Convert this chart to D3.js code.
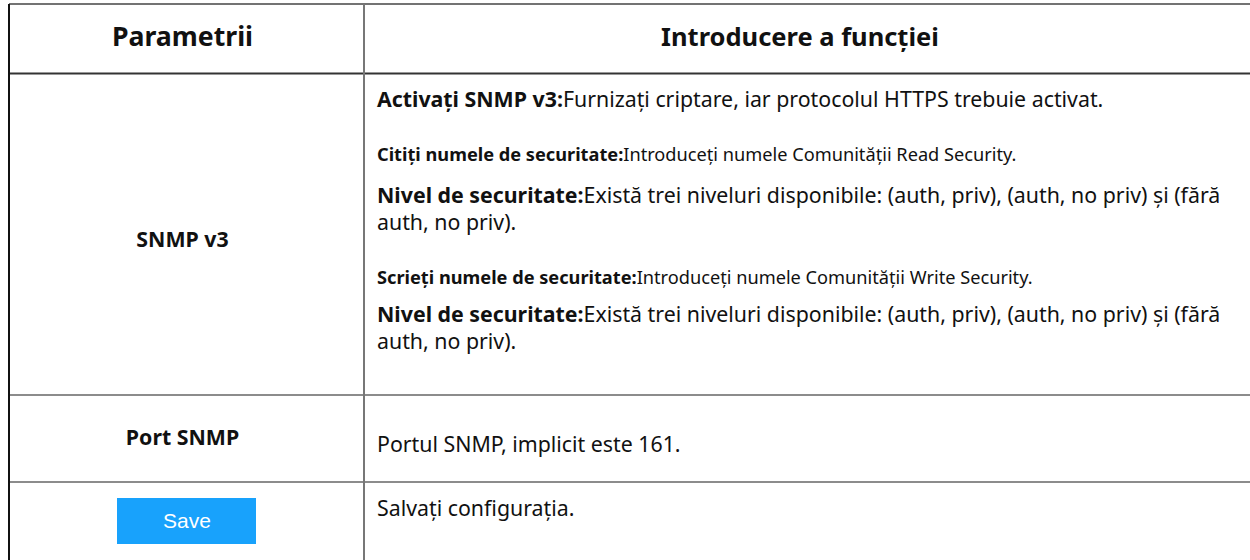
<!DOCTYPE html>
<html><head><meta charset="utf-8">
<script src="https://cdn.jsdelivr.net/npm/d3@7"></script>
<style>html,body{margin:0;padding:0;background:#fff;}svg{display:block;}</style>
</head><body><div id="chart"></div>
<script>
const headers = ["Parametrii", "Introducere a funcției"];
const rowLabels = ["SNMP v3", "Port SNMP", "Save"];
const v3Paragraphs = [
  {bold: "Activați SNMP v3:", lines: ["Furnizați criptare, iar protocolul HTTPS trebuie activat."], small: false},
  {bold: "Citiți numele de securitate:", lines: ["Introduceți numele Comunității Read Security."], small: true},
  {bold: "Nivel de securitate:", lines: ["Există trei niveluri disponibile: (auth, priv), (auth, no priv) și (fără", "auth, no priv)."], small: false},
  {bold: "Scrieți numele de securitate:", lines: ["Introduceți numele Comunității Write Security."], small: true},
  {bold: "Nivel de securitate:", lines: ["Există trei niveluri disponibile: (auth, priv), (auth, no priv) și (fără", "auth, no priv)."], small: false}
];
const portText = "Portul SNMP, implicit este 161.";
const saveText = "Salvați configurația.";

const W = 1250, H = 560;
const svg = d3.select("#chart").append("svg").attr("width", W).attr("height", H)
  .style("font-family", "'Noto Sans', 'Open Sans', sans-serif");

const xL = 9, xDiv = 364, xR = 1250;
const yTop = 4, yHead = 73.5, yRow1 = 395, yRow2 = 482, yBot = 560;

svg.append("line").attr("x1", xL).attr("x2", xR).attr("y1", yTop).attr("y2", yTop).attr("stroke", "#444").attr("stroke-width", 1.5);
svg.append("line").attr("x1", xL).attr("x2", xR).attr("y1", yHead).attr("y2", yHead).attr("stroke", "#333").attr("stroke-width", 2);
[yRow1, yRow2].forEach(y => svg.append("line").attr("x1", xL).attr("x2", xR).attr("y1", y).attr("y2", y).attr("stroke", "#666").attr("stroke-width", 1.5));
svg.append("line").attr("x1", xDiv).attr("x2", xDiv).attr("y1", yTop).attr("y2", yBot).attr("stroke", "#777").attr("stroke-width", 2);
svg.append("line").attr("x1", xL).attr("x2", xL).attr("y1", yTop).attr("y2", yBot).attr("stroke", "#111").attr("stroke-width", 2);

const headX = [(xL + xDiv) / 2 - 4, 800];
svg.selectAll("text.head").data(headers).join("text").attr("class", "head")
  .attr("x", (d, i) => headX[i]).attr("y", 46).attr("text-anchor", "middle")
  .attr("font-size", (d, i) => i === 0 ? 26.67 : 25.5).attr("font-weight", 700).attr("fill", "#111").text(d => d);

const labelY = [247, 445];
svg.selectAll("text.lab").data(rowLabels.slice(0, 2)).join("text").attr("class", "lab")
  .attr("x", headX[0]).attr("y", (d, i) => labelY[i]).attr("text-anchor", "middle")
  .attr("font-size", 21.33).attr("font-weight", 700).attr("fill", "#111").text(d => d);

const btn = svg.append("g");
btn.append("rect").attr("x", 117).attr("y", 498).attr("width", 139).attr("height", 46).attr("fill", "#18a2fc");
btn.append("text").attr("x", 187).attr("y", 528).attr("text-anchor", "middle")
  .attr("font-family", "'Liberation Sans', Arial, sans-serif").attr("font-size", 21).attr("fill", "#fff").text(rowLabels[2]);

const tx = 377;
const paraY = [107, 161, 203, 284, 322];
const lineGap = 27;
v3Paragraphs.forEach((p, i) => {
  p.lines.forEach((ln, j) => {
    const t = svg.append("text").attr("x", tx).attr("y", paraY[i] + j * lineGap)
      .attr("font-size", p.small ? 18.2 : 21.33).attr("fill", "#111");
    if (j === 0) t.append("tspan").attr("font-weight", 700).text(p.bold);
    t.append("tspan").text(ln);
  });
});
svg.append("text").attr("x", tx).attr("y", 452).attr("font-size", 21.33).attr("fill", "#111").text(portText);
svg.append("text").attr("x", tx).attr("y", 516).attr("font-size", 21.33).attr("fill", "#111").text(saveText);
</script></body></html>
